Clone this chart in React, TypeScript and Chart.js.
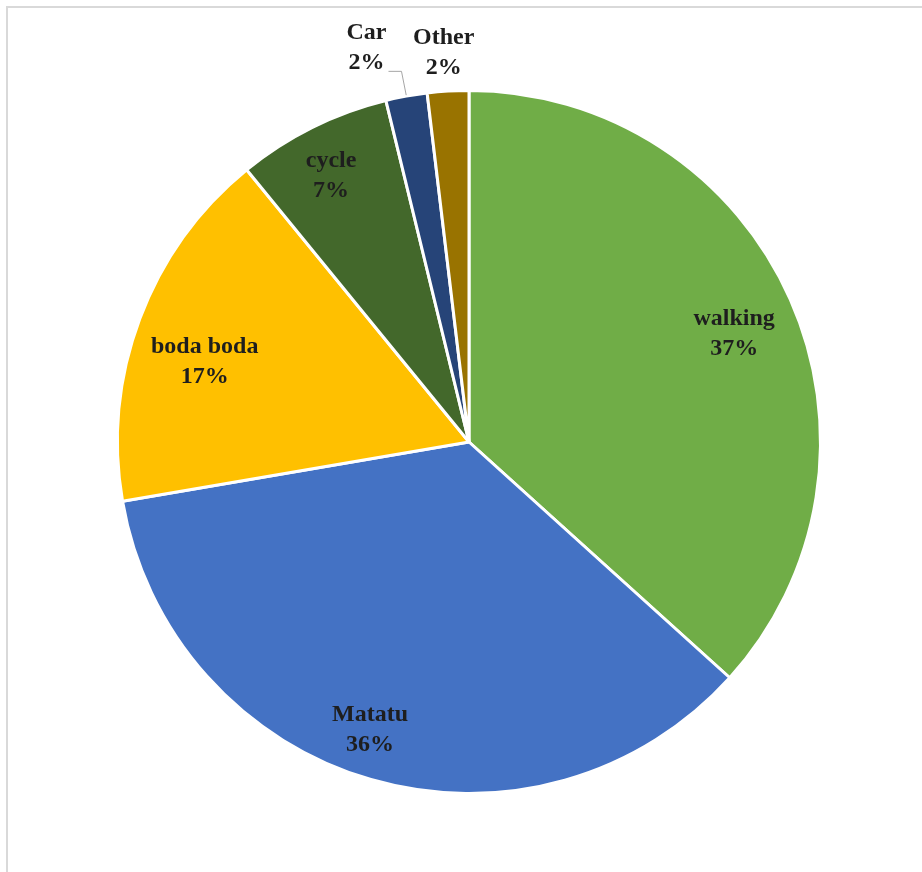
import React, { useEffect, useRef } from "react";
import { Chart, registerables } from "chart.js";

Chart.register(...registerables);

const categories = ["walking", "Matatu", "boda boda", "cycle", "Car", "Other"];
const shares = [36.7, 35.6, 16.8, 7.1, 1.9, 1.9];
const colors = ["#70AD47", "#4472C4", "#FFC000", "#43682B", "#264478", "#997300"];

// label placement: angle offset (deg) from slice middle, radius fraction
const labelAngleOffset = [1.7, 2.8, -3.6, -0.9, -4.3, -0.3];
const labelRadiusFrac = [0.815, 0.865, 0.786, 0.854, 1.16, 1.111];
const leaderFor = [false, false, false, false, true, false];

const FONT = "bold 24px 'Liberation Serif', 'Times New Roman', serif";

const framePlugin = {
  id: "frame",
  beforeDraw(chart: any) {
    const ctx = chart.ctx;
    ctx.save();
    ctx.fillStyle = "#ffffff";
    ctx.fillRect(0, 0, chart.width, chart.height);
    ctx.strokeStyle = "#d9d9d9";
    ctx.lineWidth = 2;
    ctx.beginPath();
    ctx.moveTo(7, chart.height);
    ctx.lineTo(7, 7);
    ctx.lineTo(chart.width, 7);
    ctx.stroke();
    ctx.restore();
  },
};

const labelPlugin = {
  id: "sliceLabels",
  afterDatasetsDraw(chart: any) {
    const ctx = chart.ctx;
    const meta = chart.getDatasetMeta(0);
    const data = chart.data.datasets[0].data as number[];
    const total = data.reduce((a, b) => a + b, 0);
    ctx.save();
    ctx.font = FONT;
    ctx.fillStyle = "#1e1e1e";
    ctx.textAlign = "center";
    ctx.textBaseline = "middle";
    meta.data.forEach((arc: any, i: number) => {
      const { x, y, startAngle, endAngle, outerRadius } = arc.getProps(
        ["x", "y", "startAngle", "endAngle", "outerRadius"],
        true
      );
      const mid = (startAngle + endAngle) / 2 + (labelAngleOffset[i] * Math.PI) / 180;
      const r = outerRadius * labelRadiusFrac[i];
      const cx = x + Math.cos(mid) * r;
      const cy = y + Math.sin(mid) * r;
      const pct = Math.round((data[i] / total) * 100) + "%";
      ctx.fillText(chart.data.labels[i], cx, cy - 15);
      ctx.fillText(pct, cx, cy + 15);
      if (leaderFor[i]) {
        const am = (startAngle + endAngle) / 2;
        const ex = x + Math.cos(am) * (outerRadius + 1);
        const ey = y + Math.sin(am) * (outerRadius + 1);
        ctx.strokeStyle = "#a6a6a6";
        ctx.lineWidth = 1;
        ctx.beginPath();
        ctx.moveTo(cx + 22, cy + 24);
        ctx.lineTo(cx + 35, cy + 24);
        ctx.lineTo(ex, ey);
        ctx.stroke();
      }
    });
    ctx.restore();
  },
};

export default function App() {
  const ref = useRef<HTMLCanvasElement | null>(null);
  useEffect(() => {
    if (!ref.current) return;
    const chart = new Chart(ref.current, {
      type: "pie",
      data: {
        labels: categories,
        datasets: [
          {
            data: shares,
            backgroundColor: colors,
            borderColor: "#ffffff",
            borderWidth: 3,
          },
        ],
      },
      options: {
        responsive: false,
        animation: false,
        layout: { padding: { left: 116, right: 100, top: 89, bottom: 77 } },
        plugins: {
          legend: { display: false },
          tooltip: { enabled: false },
        },
      },
      plugins: [framePlugin, labelPlugin],
    });
    return () => chart.destroy();
  }, []);
  return (
    <div style={{ position: "absolute", left: 0, top: 0, width: 922, height: 872 }}>
      <canvas ref={ref} width={922} height={872} style={{ display: "block" }} />
    </div>
  );
}
